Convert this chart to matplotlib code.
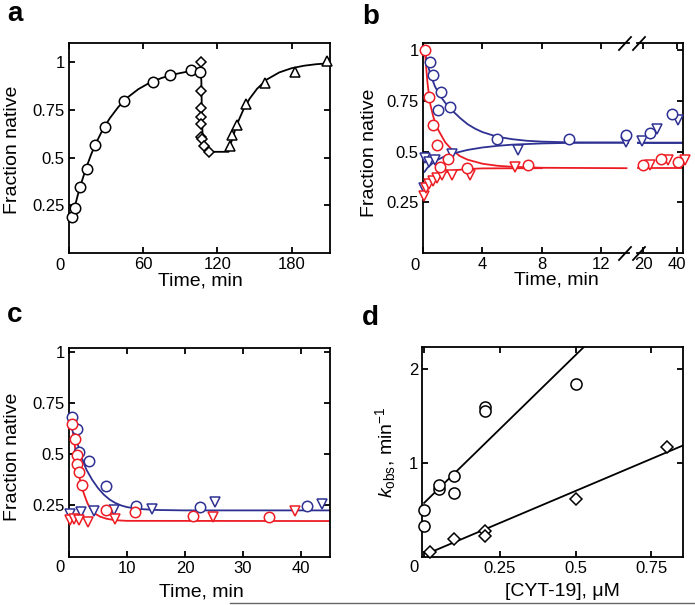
import numpy as np
import matplotlib.pyplot as plt
from matplotlib.lines import Line2D

plt.rcParams['font.family'] = ['Liberation Sans', 'DejaVu Sans']
plt.rcParams['mathtext.fontset'] = 'custom'
plt.rcParams['mathtext.rm'] = 'Liberation Sans'
plt.rcParams['mathtext.it'] = 'Liberation Sans:italic'

BLUE = '#2e3192'
RED = '#ed1c24'

# ---- panel a : time course (min, fraction native)
a_circ_t = [2.7, 5.1, 9.1, 14.7, 21.4, 29.5, 44.8, 67.9, 81.3, 98.5, 105.5]
a_circ_f = [0.19, 0.235, 0.344, 0.442, 0.565, 0.66, 0.796, 0.896, 0.93, 0.958, 0.948]
a_diam_t = [107.1, 107.1, 107.1, 107.1, 107.1, 107.1, 107.9, 109.2, 113.2]
a_diam_f = [1.0, 0.849, 0.757, 0.714, 0.674, 0.609, 0.595, 0.56, 0.528]
a_tri_t = [129.9, 131.5, 136.1, 143.3, 158.3, 183.1, 208.6]
a_tri_f = [0.563, 0.616, 0.672, 0.779, 0.893, 0.946, 1.005]
a_fit_t = [2.0, 4, 7, 10, 14, 18, 22, 27, 33, 40, 48, 56, 65, 75, 85, 95, 103, 106.5,
           107.0, 107.3, 107.6, 108.0, 108.8, 110, 112, 115, 129,
           131, 134, 137, 141, 146, 152, 160, 170, 180, 190, 200, 211]
a_fit_f = [0.20, 0.225, 0.301, 0.368, 0.448, 0.518, 0.578, 0.643, 0.706, 0.766, 0.818,
           0.858, 0.891, 0.917, 0.936, 0.949, 0.956, 0.958,
           0.90, 0.78, 0.68, 0.62, 0.58, 0.555, 0.538, 0.53, 0.53,
           0.577, 0.639, 0.692, 0.751, 0.808, 0.860, 0.909, 0.946, 0.968, 0.981, 0.989, 0.994]

# ---- panel b
b_bc_t = [0.47, 0.69, 1.03, 1.19, 1.82, 5.0, 9.83, 13.7, 24.1, 36.9]
b_bc_f = [0.943, 0.877, 0.704, 0.795, 0.72, 0.56, 0.564, 0.58, 0.589, 0.683]
b_bt_t = [0.05, 0.15, 0.43, 0.81, 1.93, 6.38, 13.7, 19.2, 28.1, 40.8]
b_bt_f = [0.32, 0.47, 0.448, 0.456, 0.49, 0.506, 0.547, 0.552, 0.61, 0.654]
b_rc_t = [0.13, 0.43, 0.65, 0.92, 1.14, 1.71, 2.94, 7.09, 20.2, 30.4, 40.8]
b_rc_f = [1.0, 0.77, 0.63, 0.53, 0.423, 0.465, 0.42, 0.432, 0.435, 0.465, 0.448]
b_rt_t = [0.05, 0.2, 0.4, 0.65, 0.95, 1.3, 1.93, 3.16, 6.2, 24.1, 34.9, 44.7]
b_rt_f = [0.28, 0.32, 0.34, 0.355, 0.37, 0.385, 0.385, 0.385, 0.425, 0.435, 0.456, 0.456]
b_bc_fit_t = [0.13, 0.47, 0.81, 1.0, 1.25, 1.5, 2.0, 2.5, 3.0, 3.5, 4.0, 5.0, 6.0, 7.0, 8.0, 10, 14, 50]
b_bc_fit_f = [0.985, 0.886, 0.82, 0.795, 0.765, 0.74, 0.70, 0.665, 0.635, 0.613, 0.596, 0.573,
              0.561, 0.553, 0.549, 0.545, 0.544, 0.544]
b_bt_fit_t = [0.1, 0.3, 0.6, 1.0, 1.5, 2.0, 3.0, 4.0, 5.0, 6.0, 8.0, 10, 14]
b_bt_fit_f = [0.40, 0.42, 0.44, 0.46, 0.478, 0.49, 0.508, 0.52, 0.528, 0.534, 0.54, 0.543, 0.544]
b_rc_fit_t = [0.12, 0.2, 0.3, 0.4, 0.5, 0.7, 1.0, 1.5, 2.0, 2.5, 3.0, 4.0, 5.0, 6.0, 8.0, 13.7]
b_rc_fit_f = [1.0, 0.93, 0.84, 0.78, 0.73, 0.67, 0.61, 0.545, 0.505, 0.477, 0.46, 0.44, 0.43,
              0.425, 0.42, 0.418]
b_rt_fit_t = [0.05, 0.2, 0.4, 0.7, 1.0, 1.5, 2.0, 3.0, 4.0, 8.0]
b_rt_fit_f = [0.29, 0.31, 0.335, 0.36, 0.38, 0.397, 0.407, 0.414, 0.417, 0.418]
b_flat_t = [17, 50]
b_blue_flat = [0.544, 0.544]
b_red_flat = [0.418, 0.418]

# ---- panel c
c_bc_t = [0.45, 1.3, 1.8, 3.4, 6.45, 11.6, 22.6, 41.1]
c_bc_f = [0.68, 0.623, 0.509, 0.466, 0.344, 0.247, 0.242, 0.245]
c_bt_t = [0.2, 2.0, 4.3, 7.7, 14.3, 25.1, 43.7]
c_bt_f = [0.21, 0.217, 0.222, 0.226, 0.234, 0.266, 0.258]
c_rc_t = [0.45, 0.96, 1.3, 1.4, 1.8, 2.2, 6.3, 11.3, 21.3, 34.5]
c_rc_f = [0.65, 0.574, 0.498, 0.453, 0.412, 0.351, 0.229, 0.216, 0.201, 0.193]
c_rt_t = [0.2, 0.85, 1.7, 3.2, 8.0, 24.9, 39.0]
c_rt_f = [0.177, 0.185, 0.18, 0.169, 0.185, 0.196, 0.221]
c_bfit_t = [0.45, 1.0, 1.5, 2.0, 2.5, 3.0, 4.0, 5.0, 6.0, 7.0, 8.0, 9.0, 10, 12, 15, 20, 45]
c_bfit_f = [0.68, 0.61, 0.55, 0.50, 0.46, 0.425, 0.375, 0.335, 0.303, 0.279, 0.262, 0.25,
            0.242, 0.233, 0.228, 0.226, 0.226]
c_rfit_t = [0.45, 0.8, 1.1, 1.4, 1.7, 2.0, 2.6, 3.2, 3.7, 4.5, 5.4, 6.5, 8.0, 10, 45]
c_rfit_f = [0.65, 0.58, 0.52, 0.46, 0.405, 0.36, 0.305, 0.26, 0.235, 0.21, 0.195, 0.185,
            0.178, 0.175, 0.174]

# ---- panel d
d_circ_x = [0.0, 0.0, 0.05, 0.05, 0.1, 0.1, 0.2, 0.2, 0.5]
d_circ_k = [0.5, 0.335, 0.725, 0.77, 0.87, 0.68, 1.60, 1.555, 1.84]
d_diam_x = [0.02, 0.1, 0.2, 0.2, 0.5, 0.8]
d_diam_k = [0.06, 0.2, 0.28, 0.23, 0.62, 1.175]
d_cfit_x = [0.0, 0.528]
d_cfit_k = [0.58, 2.235]
d_dfit_x = [0.02, 0.855]
d_dfit_k = [0.055, 1.19]

W, H = 695, 605
fig = plt.figure(figsize=(W / 100, H / 100), dpi=100)


def box(x0, y0, x1, y1):
    return fig.add_axes([x0 / W, 1 - y1 / H, (x1 - x0) / W, (y1 - y0) / H])


def ftext(x, y, s, **kw):
    fig.text(x / W, 1 - y / H, s, **kw)


def style(ax, left=True, right=True):
    for s in ax.spines.values():
        s.set_linewidth(1.3)
    ax.tick_params(direction='in', length=4, width=1.3, top=True, bottom=True,
                   left=left, right=right, labelsize=12, pad=3)


def pts(ax, x, y, m, c, ms):
    ax.plot(x, y, ls='none', marker=m, ms=ms, mfc='white', mec=c, mew=1.1,
            clip_on=False, zorder=3)


FS = 14
yt = [0.25, 0.5, 0.75, 1]
ytl = ['0.25', '0.5', '0.75', '1']

# ================= a
ax = box(69, 43, 330, 253)
style(ax)
ax.plot(a_fit_t, a_fit_f, color='k', lw=1.3, zorder=2)
pts(ax, a_circ_t, a_circ_f, 'o', 'k', 7.5)
pts(ax, a_diam_t, a_diam_f, 'D', 'k', 4.6)
pts(ax, a_tri_t, a_tri_f, '^', 'k', 7.5)
ax.set_xlim(0, 211)
ax.set_ylim(0, 1.1)
ax.set_xticks([0, 60, 120, 180], ['', '60', '120', '180'])
ax.set_yticks(yt, ytl)
ftext(60, 265, '0', ha='center', va='center', fontsize=12)
ftext(200, 281, 'Time, min', ha='center', va='center', fontsize=FS)
ftext(13, 150, 'Fraction native', ha='center', va='center', rotation=90, fontsize=FS)
ftext(7, 21, 'a', fontsize=20, fontweight='bold', ha='left', va='baseline')

# ================= b (broken axis)
axl = box(423, 43, 629, 253)
axr = box(637, 43, 683.3, 253)
style(axl, right=False)
style(axr, left=False)
axl.spines['right'].set_visible(False)
axr.spines['left'].set_visible(False)
for a in (axl, axr):
    a.plot(b_bc_fit_t, b_bc_fit_f, color=BLUE, lw=1.3, zorder=2)
    a.plot(b_rc_fit_t, b_rc_fit_f, color=RED, lw=1.3, zorder=2)
    a.plot(b_bt_fit_t, b_bt_fit_f, color=BLUE, lw=1.3, zorder=2)
    a.plot(b_rt_fit_t, b_rt_fit_f, color=RED, lw=1.3, zorder=2)
    a.set_ylim(0, 1.035)
axr.plot(b_flat_t, b_blue_flat, color=BLUE, lw=1.3, zorder=2)
axr.plot(b_flat_t, b_red_flat, color=RED, lw=1.3, zorder=2)
axl.set_xlim(0, 13.87)
axr.set_xlim(16.47, 43.7)
for a, lo, hi in ((axl, 0, 13.87), (axr, 16.47, 43.7)):
    for xs, ys, m, c in ((b_bt_t, b_bt_f, 'v', BLUE), (b_rt_t, b_rt_f, 'v', RED),
                         (b_bc_t, b_bc_f, 'o', BLUE), (b_rc_t, b_rc_f, 'o', RED)):
        sel = [(x, y) for x, y in zip(xs, ys) if lo <= x <= hi + 1.5]
        if sel:
            pts(a, [p[0] for p in sel], [p[1] for p in sel], m, c, 7.5)
axl.set_xticks([0, 4, 8, 12], ['', '4', '8', '12'])
axr.set_xticks([20, 40], ['20', '40'])
axl.set_yticks(yt, ytl)
axr.set_yticks(yt, [])
ftext(415, 265, '0', ha='center', va='center', fontsize=12)
ftext(556, 280, 'Time, min', ha='center', va='center', fontsize=FS)
ftext(369, 153, 'Fraction native', ha='center', va='center', rotation=90, fontsize=FS)
ftext(362, 24, 'b', fontsize=20, fontweight='bold', ha='left', va='baseline')
for yb in (43, 253):
    for xs in (619, 633):
        fig.add_artist(Line2D([xs / W, (xs + 12) / W], [1 - (yb + 7) / H, 1 - (yb - 6) / H],
                              color='k', lw=1.3))

# ================= c
ax = box(69, 347.7, 330, 556.7)
style(ax)
ax.plot(c_bfit_t, c_bfit_f, color=BLUE, lw=1.3, zorder=2)
ax.plot(c_rfit_t, c_rfit_f, color=RED, lw=1.3, zorder=2)
pts(ax, c_bt_t, c_bt_f, 'v', BLUE, 7.5)
pts(ax, c_rt_t, c_rt_f, 'v', RED, 7.5)
pts(ax, c_bc_t, c_bc_f, 'o', BLUE, 7.5)
pts(ax, c_rc_t, c_rc_f, 'o', RED, 7.5)
ax.set_xlim(0, 45)
ax.set_ylim(0, 1.02)
ax.set_xticks([0, 10, 20, 30, 40], ['', '10', '20', '30', '40'])
ax.set_yticks(yt, ytl)
ftext(60, 568, '0', ha='center', va='center', fontsize=12)
ftext(201, 592, 'Time, min', ha='center', va='center', fontsize=FS)
ftext(13, 457, 'Fraction native', ha='center', va='center', rotation=90, fontsize=FS)
ftext(7, 322, 'c', fontsize=20, fontweight='bold', ha='left', va='baseline')

# ================= d
ax = box(422.3, 346.7, 683.3, 556.7)
style(ax)
ax.plot(d_cfit_x, d_cfit_k, color='k', lw=1.3, zorder=2)
ax.plot(d_dfit_x, d_dfit_k, color='k', lw=1.3, zorder=2)
pts(ax, d_circ_x, d_circ_k, 'o', 'k', 8)
pts(ax, d_diam_x, d_diam_k, 'D', 'k', 6)
ax.set_xlim(-0.006, 0.855)
ax.set_ylim(0.01, 2.235)
ax.set_xticks([0, 0.25, 0.5, 0.75], ['', '0.25', '0.5', '0.75'])
ax.set_yticks([1, 2], ['1', '2'])
ftext(414, 567, '0', ha='center', va='center', fontsize=12)
ftext(562, 591, '[CYT-19], \u03bcM', ha='center', va='center', fontsize=FS)
ftext(386, 452, r'$k_{\mathrm{obs}}$, min$^{-1}$', ha='center', va='center',
      rotation=90, fontsize=FS)
ftext(362, 325, 'd', fontsize=20, fontweight='bold', ha='left', va='baseline')

fig.add_artist(Line2D([230 / W, 1], [1 - 603 / H, 1 - 603 / H], color='0.4', lw=1))

fig.savefig('out.png', dpi=100)
